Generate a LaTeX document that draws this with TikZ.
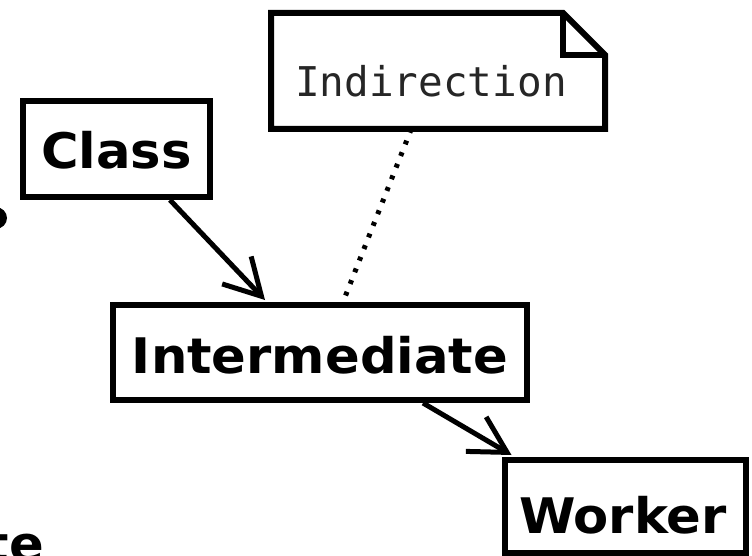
\documentclass[tikz,border=0pt]{standalone}
\usepackage{fontspec}
\usetikzlibrary{arrows.meta,calc}
\newfontfamily\umlsans{DejaVu Sans}
\newfontfamily\umlmono{DejaVu Sans Mono}
\newcommand\widebold[1]{\scalebox{1.045}[1]{#1}}
\begin{document}
\begin{tikzpicture}[x=1pt,y=-1pt,
  classbox/.style={draw, line width=6pt, inner sep=0pt},
  classname/.style={inner sep=0pt, font=\umlsans\bfseries\fontsize{49}{58}\selectfont},
  notetext/.style={font=\umlmono\fontsize{41}{50}\selectfont, text=black!85, inner sep=0pt},
  notefold/.style={draw, line width=6pt, line join=miter},
  assoc/.style={line width=5pt, -{Straight Barb[length=36pt,width=40pt,line width=5pt]}},
  anchorline/.style={line width=5pt, dash pattern=on 4pt off 8.5pt}]
\useasboundingbox (0,0) rectangle (752,556);
\clip (0,0) rectangle (752,556);

% classes
\node[classbox, minimum width=187pt, minimum height=96pt] (cls) at (116.5,149) {};
\node[classbox, minimum width=414pt, minimum height=95pt] (mid) at (320,352.5) {};
\node[classbox, minimum width=241pt, minimum height=93pt] (wrk) at (625,506.5) {};
\node[classname] (clst) at ([yshift=-1pt]cls.center) {\widebold{Class}};
\node[classname] (midt) at ([yshift=-2.5pt]mid.center) {\widebold{Intermediate}};
\node[classname] (wrkt) at ([xshift=-2pt,yshift=-8.5pt]wrk.center) {\widebold{Worker}};

% note with folded corner
\coordinate (nw) at (271,13);
\coordinate (ne) at (605,13);
\coordinate (se) at (605,129);
\coordinate (sw) at (271,129);
\draw[notefold] ([xshift=-42pt]ne) -- ([yshift=-42pt]ne) |- (sw) |- cycle;
\draw[notefold] ([xshift=-42pt]ne) |- ([yshift=-42pt]ne);
\node[notetext, anchor=base west] (note) at (295,97) {Indirection};

% connectors
\draw[assoc] ([xshift=53.5pt]cls.south) -- ([xshift=-55pt,yshift=2pt]mid.north);
\draw[assoc] ([xshift=103pt]mid.south) -- ([xshift=10pt,yshift=2pt]wrk.north west);
\draw[anchorline] ($(sw)!0.42!(se)$) -- ([xshift=23pt]mid.north);

% parts of neighbouring elements at the border
\fill (-3.6,218) circle (10.6pt);
\node[classname, anchor=base east] (tail) at (44,561) {\widebold{te}};
\end{tikzpicture}
\end{document}
